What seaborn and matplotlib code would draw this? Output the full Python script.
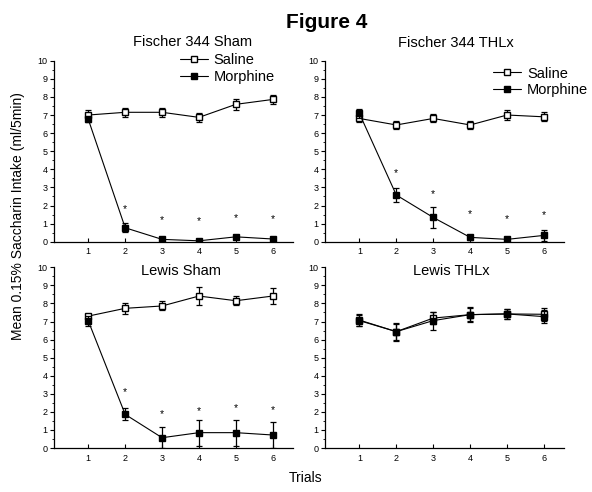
import numpy as np
import pandas as pd
import seaborn as sns
import matplotlib.pyplot as plt
from matplotlib.ticker import MultipleLocator

trials = [1, 2, 3, 4, 5, 6]

# Fischer 344 Sham
f344_sham_saline = [7.0, 7.15, 7.15, 6.87, 7.59, 7.86]
f344_sham_saline_err = [0.3, 0.25, 0.25, 0.25, 0.3, 0.25]
f344_sham_morphine = [6.76, 0.77, 0.13, 0.05, 0.27, 0.15]
f344_sham_morphine_err = [0.15, 0.25, 0.08, 0.05, 0.1, 0.08]
f344_sham_stars = [None, 1.8, 1.2, 1.14, 1.33, 1.23]

# Fischer 344 THLx
f344_thlx_saline = [6.81, 6.45, 6.81, 6.45, 7.0, 6.9]
f344_thlx_saline_err = [0.2, 0.22, 0.22, 0.22, 0.25, 0.25]
f344_thlx_morphine = [7.09, 2.58, 1.34, 0.24, 0.13, 0.35]
f344_thlx_morphine_err = [0.25, 0.4, 0.6, 0.15, 0.05, 0.3]
f344_thlx_stars = [None, 3.81, 2.63, 1.51, 1.23, 1.47]

# Lewis Sham
lewis_sham_saline = [7.3, 7.73, 7.86, 8.41, 8.15, 8.41]
lewis_sham_saline_err = [0.1, 0.3, 0.25, 0.5, 0.25, 0.43]
lewis_sham_morphine = [7.03, 1.86, 0.57, 0.85, 0.85, 0.72]
lewis_sham_morphine_err = [0.3, 0.33, 0.57, 0.72, 0.72, 0.7]
lewis_sham_stars = [None, 3.08, 1.86, 2.07, 2.23, 2.08]

# Lewis THLx
lewis_thlx_saline = [7.05, 6.44, 7.19, 7.38, 7.42, 7.4]
lewis_thlx_saline_err = [0.3, 0.45, 0.35, 0.35, 0.3, 0.35]
lewis_thlx_morphine = [7.08, 6.44, 7.05, 7.38, 7.42, 7.27]
lewis_thlx_morphine_err = [0.35, 0.5, 0.5, 0.4, 0.3, 0.35]
lewis_thlx_stars = [None] * 6

panels = [
    ("Fischer 344 Sham", f344_sham_saline, f344_sham_saline_err,
     f344_sham_morphine, f344_sham_morphine_err, f344_sham_stars),
    ("Fischer 344 THLx", f344_thlx_saline, f344_thlx_saline_err,
     f344_thlx_morphine, f344_thlx_morphine_err, f344_thlx_stars),
    ("Lewis Sham", lewis_sham_saline, lewis_sham_saline_err,
     lewis_sham_morphine, lewis_sham_morphine_err, lewis_sham_stars),
    ("Lewis THLx", lewis_thlx_saline, lewis_thlx_saline_err,
     lewis_thlx_morphine, lewis_thlx_morphine_err, lewis_thlx_stars),
]

sns.set_theme(style="ticks")
plt.rcParams['font.family'] = ['Liberation Sans', 'DejaVu Sans']
for key in ['text.color', 'axes.labelcolor', 'xtick.color', 'ytick.color',
            'axes.edgecolor']:
    plt.rcParams[key] = 'black'

fig = plt.figure(figsize=(5.92, 4.92), dpi=100)

# axes boxes [left, bottom, width, height] in figure fraction
boxes = [
    [0.0912, 0.5087, 0.4032, 0.3679],
    [0.5490, 0.5087, 0.4037, 0.3679],
    [0.0912, 0.0894, 0.4032, 0.3673],
    [0.5490, 0.0894, 0.4037, 0.3673],
]
title_pos = [(0.58, 1.103), (0.548, 1.10), (0.532, 0.981), (0.527, 0.981)]
legend_pos = {0: (0.528, 1.04), 1: (0.705, 0.968)}

for i, (name, sal, sal_err, mor, mor_err, stars) in enumerate(panels):
    ax = fig.add_axes(boxes[i])

    ax.errorbar(trials, sal, yerr=sal_err, fmt='none', ecolor='black',
                elinewidth=0.9, capsize=2.2, capthick=0.9, zorder=2)
    sns.lineplot(x=trials, y=sal, ax=ax, color='black', linewidth=0.8,
                 marker='s', markersize=5, markerfacecolor='white',
                 markeredgecolor='black', markeredgewidth=1.0, zorder=3)
    ax.errorbar(trials, mor, yerr=mor_err, fmt='none', ecolor='black',
                elinewidth=0.9, capsize=2.2, capthick=0.9, zorder=4)
    sns.lineplot(x=trials, y=mor, ax=ax, color='black', linewidth=0.8,
                 marker='s', markersize=5, markerfacecolor='black',
                 markeredgecolor='black', markeredgewidth=1.0, zorder=5)

    for t, s in zip(trials, stars):
        if s is not None:
            ax.text(t, s, "*", ha='center', va='center', fontsize=7.5)

    ax.set_xlim(0.07, 6.54)
    ax.set_ylim(0, 10)
    ax.set_xticks(trials)
    ax.set_yticks(range(0, 11))
    ax.yaxis.set_minor_locator(MultipleLocator(0.5))
    ax.tick_params(axis='x', direction='in', length=3, width=0.8,
                   labelsize=6.5, pad=4)
    ax.tick_params(axis='y', which='major', direction='out', length=3,
                   width=0.8, labelsize=6.5, pad=1.5)
    ax.tick_params(axis='y', which='minor', direction='out', length=1.6,
                   width=0.6)
    ax.set_xlabel("")
    ax.set_ylabel("")
    sns.despine(ax=ax)
    for sp in ['left', 'bottom']:
        ax.spines[sp].set_linewidth(0.9)

    ax.text(title_pos[i][0], title_pos[i][1], name, transform=ax.transAxes,
            ha='center', va='center', fontsize=10.5)

    if i in legend_pos:
        lines = ax.get_lines()
        handles = [l for l in lines if l.get_marker() == 's']
        ax.legend(handles, ["Saline", "Morphine"], loc='upper left',
                  bbox_to_anchor=legend_pos[i], frameon=False, fontsize=10.5,
                  handlelength=1.9, handletextpad=0.4, labelspacing=0.15,
                  borderpad=0, borderaxespad=0)

fig.text(327 / 592, 1 - 28 / 492, "Figure 4", ha='center', va='baseline',
         fontsize=15, fontweight='bold')
fig.text(18 / 592, 1 - 216 / 492, "Mean 0.15% Saccharin Intake (ml/5min)",
         rotation=90, ha='center', va='center', fontsize=10)
fig.text(306 / 592, 1 - 478 / 492, "Trials", ha='center', va='center',
         fontsize=10)

fig.savefig("out.png", dpi=100)
